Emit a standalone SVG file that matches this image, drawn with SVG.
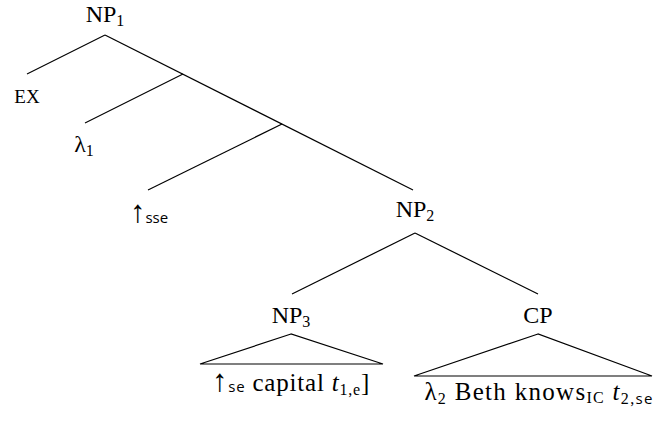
<svg xmlns="http://www.w3.org/2000/svg" width="654" height="422" viewBox="0 0 654 422">
<style>
.lbl{font-family:"Liberation Serif","DejaVu Serif",serif;font-size:24px;fill:#000;text-anchor:middle}
.leaf{font-size:25px;letter-spacing:0.8px}
.sub{font-size:16px}
.sans{font-family:"Open Sans","DejaVu Sans",sans-serif;font-size:15px}
.arr{font-size:31px}
.sc{font-size:19px}
.conn line,.conn polygon{stroke:#000;stroke-width:1.2;fill:none}
</style>
<rect width="654" height="422" fill="#fff"/>
<g class="conn" id="connectors">
<line x1="105" y1="35" x2="27" y2="74"/>
<line x1="105" y1="35" x2="413" y2="190"/>
<line x1="183" y1="74" x2="85" y2="123"/>
<line x1="282" y1="124" x2="148" y2="190"/>
<line x1="415" y1="233" x2="292" y2="294"/>
<line x1="415" y1="233" x2="538" y2="294"/>
<polygon points="291,334 200,364 383,364"/>
<polygon points="538,334 414,376 652,376"/>
</g>
<g id="np1"><text class="lbl" x="105" y="22">NP<tspan class="sub" dy="4">1</tspan></text></g>
<g id="ex"><text class="lbl sc" x="27" y="103">EX</text></g>
<g id="lambda1"><text class="lbl" x="84" y="152">λ<tspan class="sub" dy="4">1</tspan></text></g>
<g id="up-sse"><text class="lbl" x="149" y="222"><tspan class="arr">↑</tspan><tspan class="sans" dy="1">sse</tspan></text></g>
<g id="np2"><text class="lbl" x="415" y="217">NP<tspan class="sub" dy="4">2</tspan></text></g>
<g id="np3"><text class="lbl" x="291" y="323">NP<tspan class="sub" dy="4">3</tspan></text></g>
<g id="cp"><text class="lbl" x="538" y="323">CP</text></g>
<g id="np3-leaf"><text class="lbl leaf" x="291" y="391"><tspan class="arr">↑</tspan><tspan class="sans" dy="1">se</tspan><tspan dy="-1"> capital </tspan><tspan font-style="italic">t</tspan><tspan class="sub" dy="4">1,e</tspan><tspan dy="-4">]</tspan></text></g>
<g id="cp-leaf"><text class="lbl leaf" x="539" y="400" style="letter-spacing:1.3px">λ<tspan class="sub" dy="4">2</tspan><tspan dy="-4"> Beth knows</tspan><tspan class="sub" font-size="13" dy="3">IC</tspan><tspan dy="-3"> </tspan><tspan font-style="italic">t</tspan><tspan class="sub" dy="4">2,</tspan><tspan class="sans">se</tspan></text></g>
</svg>
